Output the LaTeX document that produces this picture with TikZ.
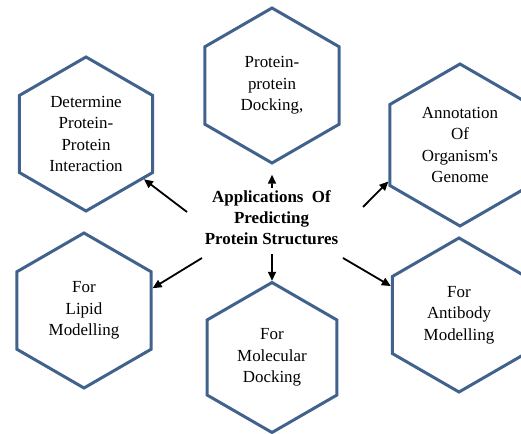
\documentclass[tikz,border=0pt]{standalone}
\usepackage{fontspec}
\setmainfont{Liberation Serif}
\usetikzlibrary{shapes.geometric,arrows.meta}
\definecolor{hexblue}{HTML}{41628C}
\begin{document}
\begin{tikzpicture}[x=1bp,y=-1bp,
  hexbox/.style={regular polygon, regular polygon sides=6, shape border rotate=30,
    draw=hexblue, line width=3bp, minimum size=154bp, inner sep=0pt, align=center,
    font=\fontsize{17}{21.5}\selectfont},
  lbl/.style={align=center, font=\fontsize{17}{21}\selectfont\bfseries, inner sep=0pt},
  arr/.style={-{Triangle[length=9bp,width=8bp]}, line width=1.8bp, black}]
\useasboundingbox (0,0) rectangle (521,434);
\node[hexbox] (h1) at (86,134) {Determine\\Protein-\\Protein\\Interaction};
\node[hexbox, minimum size=155bp] (h2) at (272,85.5) {Protein-\\protein\\Docking,};
\node[hexbox, minimum size=162bp] (h3) at (460,145) {Annotation\\Of\\Organism\textquotesingle s\\Genome};
\node[hexbox, minimum size=155bp] (h4) at (84,310.5) {For\\Lipid\\Modelling};
\node[hexbox, minimum size=150bp] (h5) at (272,357.5) {For\\Molecular\\Docking};
\node[hexbox] (h6) at (459,315) {For\\Antibody\\Modelling};
\node[lbl] (c) at (271.5,218) {Applications~ Of\\Predicting\\Protein Structures};
\coordinate (t1) at (187,212);
\coordinate (t2) at (363,207);
\coordinate (t3) at (202,258);
\coordinate (t4) at (343,258);
\coordinate (t5) at (272,188);
\coordinate (t6) at (272,254);
\draw[arr] (t1) -- (h1.-38);
\draw[arr] (t2) -- (h3.207);
\draw[arr] (t3) -- (h4.18);
\draw[arr] (t4) -- (h6.157);
\draw[arr, shorten >=10bp] (t5) -- (h2.-90);
\draw[arr] (t6) -- (h5.90);
\end{tikzpicture}
\end{document}
